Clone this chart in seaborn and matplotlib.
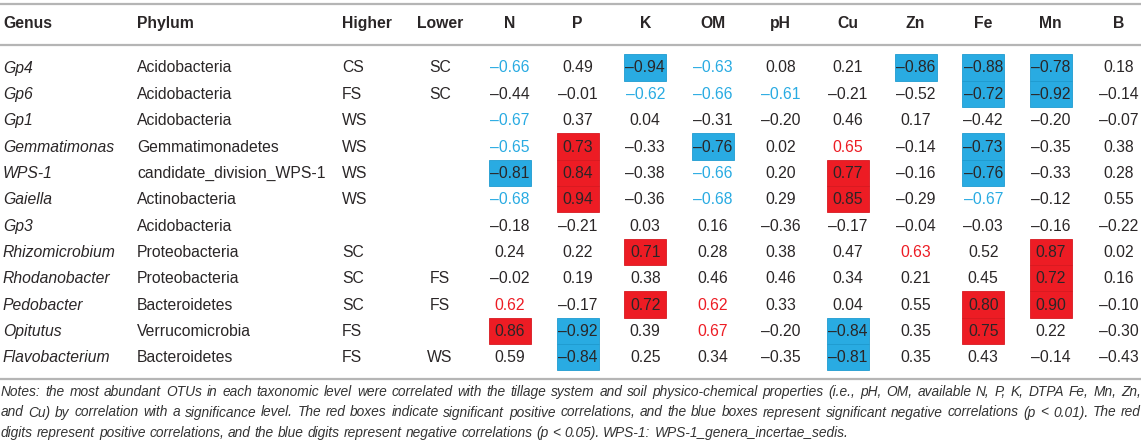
import matplotlib
matplotlib.use('Agg')
import matplotlib.pyplot as plt
import seaborn as sns


# table data
genus = ['Gp4', 'Gp6', 'Gp1', 'Gemmatimonas', 'WPS-1', 'Gaiella', 'Gp3',
         'Rhizomicrobium', 'Rhodanobacter', 'Pedobacter', 'Opitutus', 'Flavobacterium']
phylum = ['Acidobacteria', 'Acidobacteria', 'Acidobacteria', 'Gemmatimonadetes',
          'candidate_division_WPS-1', 'Actinobacteria', 'Acidobacteria', 'Proteobacteria',
          'Proteobacteria', 'Bacteroidetes', 'Verrucomicrobia', 'Bacteroidetes']
higher = ['CS', 'FS', 'WS', 'WS', 'WS', 'WS', '', 'SC', 'SC', 'SC', 'FS', 'FS']
lower = ['SC', 'SC', '', '', '', '', '', '', 'FS', 'FS', '', 'WS']
props = ['N', 'P', 'K', 'OM', 'pH', 'Cu', 'Zn', 'Fe', 'Mn', 'B']

values = [
    [-0.66, 0.49, -0.94, -0.63, 0.08, 0.21, -0.86, -0.88, -0.78, 0.18],
    [-0.44, -0.01, -0.62, -0.66, -0.61, -0.21, -0.52, -0.72, -0.92, -0.14],
    [-0.67, 0.37, 0.04, -0.31, -0.20, 0.46, 0.17, -0.42, -0.20, -0.07],
    [-0.65, 0.73, -0.33, -0.76, 0.02, 0.65, -0.14, -0.73, -0.35, 0.38],
    [-0.81, 0.84, -0.38, -0.66, 0.20, 0.77, -0.16, -0.76, -0.33, 0.28],
    [-0.68, 0.94, -0.36, -0.68, 0.29, 0.85, -0.29, -0.67, -0.12, 0.55],
    [-0.18, -0.21, 0.03, 0.16, -0.36, -0.17, -0.04, -0.03, -0.16, -0.22],
    [0.24, 0.22, 0.71, 0.28, 0.38, 0.47, 0.63, 0.52, 0.87, 0.02],
    [-0.02, 0.19, 0.38, 0.46, 0.46, 0.34, 0.21, 0.45, 0.72, 0.16],
    [0.62, -0.17, 0.72, 0.62, 0.33, 0.04, 0.55, 0.80, 0.90, -0.10],
    [0.86, -0.92, 0.39, 0.67, -0.20, -0.84, 0.35, 0.75, 0.22, -0.30],
    [0.59, -0.84, 0.25, 0.34, -0.35, -0.81, 0.35, 0.43, -0.14, -0.43],
]

# 2 = boxed (p < 0.01), 1 = coloured digits (p < 0.05), 0 = not significant
signif = [
    [1, 0, 2, 1, 0, 0, 2, 2, 2, 0],
    [0, 0, 1, 1, 1, 0, 0, 2, 2, 0],
    [1, 0, 0, 0, 0, 0, 0, 0, 0, 0],
    [1, 2, 0, 2, 0, 1, 0, 2, 0, 0],
    [2, 2, 0, 1, 0, 2, 0, 2, 0, 0],
    [1, 2, 0, 1, 0, 2, 0, 1, 0, 0],
    [0, 0, 0, 0, 0, 0, 0, 0, 0, 0],
    [0, 0, 2, 0, 0, 0, 1, 0, 2, 0],
    [0, 0, 0, 0, 0, 0, 0, 0, 2, 0],
    [1, 0, 2, 1, 0, 0, 0, 2, 2, 0],
    [2, 2, 0, 1, 0, 2, 0, 2, 0, 0],
    [0, 2, 0, 0, 0, 2, 0, 0, 0, 0],
]

notes = [
    'Notes: the most abundant OTUs in each taxonomic level were correlated with the tillage system and soil '
    'physico-chemical properties (i.e., pH, OM, available N, P, K, DTPA Fe, Mn, Zn,',
    'and Cu) by correlation with a significance level. The red boxes indicate significant positive correlations, '
    'and the blue boxes represent significant negative correlations (p < 0.01). The red',
    'digits represent positive correlations, and the blue digits represent negative correlations (p < 0.05). '
    'WPS-1: WPS-1_genera_incertae_sedis.',
]

# ------------------------------------------------------------------------------------------------------
# layout / style
sns.set_theme(style='white')
plt.rcParams['font.family'] = ['Liberation Sans', 'DejaVu Sans']

W, H = 1144, 448
col_x = [510 + 67.6 * j for j in range(len(props))]
row_y = [68 + 26.35 * i for i in range(len(genus))]
row_h = 26.4
box_w = 42

TXT = '#2a2627'
BLUE = '#29abe2'
RED = '#ed1c24'
LINE = '#b5b5b5'
FS = 11.3

fig = plt.figure(figsize=(W / 100, H / 100), dpi=100)
ax = fig.add_axes([0, 0, 1, 1])
ax.set_xlim(0, W)
ax.set_ylim(H, 0)
ax.axis('off')

# rules
for y in (4, 45, 379):
    ax.hlines(y, 0, W - 3, color=LINE, lw=1.6)

# header
hy = 23.5
ax.text(3, hy, 'Genus', fontsize=FS, fontweight='bold', color=TXT, va='center')
ax.text(137, hy, 'Phylum', fontsize=FS, fontweight='bold', color=TXT, va='center')
ax.text(342, hy, 'Higher', fontsize=FS, fontweight='bold', color=TXT, va='center')
ax.text(440, hy, 'Lower', fontsize=FS, fontweight='bold', color=TXT, va='center', ha='center')
for x, p in zip(col_x, props):
    ax.text(x, hy, p, fontsize=FS, fontweight='bold', color=TXT, va='center', ha='center')

# boxes for p < 0.01
for i, row in enumerate(signif):
    for j, s in enumerate(row):
        if s == 2:
            c = RED if values[i][j] > 0 else BLUE
            ec = '#d81920' if values[i][j] > 0 else '#1e9bd0'
            ax.bar(col_x[j], row_h, bottom=row_y[i] - 13.8, width=box_w,
                   color=c, edgecolor=ec, linewidth=0.6, zorder=1)

# body text
for i in range(len(genus)):
    y = row_y[i]
    ax.text(3, y, genus[i], fontsize=FS, style='italic', color=TXT, va='center')
    ax.text(137, y, phylum[i], fontsize=FS, color=TXT, va='center')
    ax.text(342, y, higher[i], fontsize=FS, color=TXT, va='center')
    ax.text(440, y, lower[i], fontsize=FS, color=TXT, va='center', ha='center')
    for j, v in enumerate(values[i]):
        s = signif[i][j]
        color = TXT
        if s == 1:
            color = RED if v > 0 else BLUE
        label = f'{abs(v):.2f}'
        if v < 0:
            label = '\u2013' + label
        ax.text(col_x[j], y, label, fontsize=FS, color=color, va='center', ha='center', zorder=3)

# notes, justified word by word
fig.canvas.draw()
renderer = fig.canvas.get_renderer()
note_fam = ['Liberation Sans Narrow', 'Liberation Sans']
probe = ax.text(0, 0, notes[0], fontsize=10, style='italic', family=note_fam)
nw = probe.get_window_extent(renderer).width
probe.remove()
note_fs = 10 * 1118 / nw

note_y = [392, 412.5, 433]
for k, line in enumerate(notes):
    words = line.split(' ')
    widths = []
    for w in words:
        t = ax.text(0, 0, w, fontsize=note_fs, style='italic', family=note_fam)
        widths.append(t.get_window_extent(renderer).width)
        t.remove()
    sp = ax.text(0, 0, 'a a', fontsize=note_fs, style='italic', family=note_fam)
    aa = ax.text(0, 0, 'aa', fontsize=note_fs, style='italic', family=note_fam)
    space = sp.get_window_extent(renderer).width - aa.get_window_extent(renderer).width
    sp.remove()
    aa.remove()
    if k < 2:
        gap = (W - 4 - sum(widths)) / (len(words) - 1)
    else:
        gap = space
    x = 1
    for w, wd in zip(words, widths):
        ax.text(x, note_y[k], w, fontsize=note_fs, style='italic', family=note_fam,
                color='#333333', va='center')
        x += wd + gap

fig.savefig('out.png', dpi=100)
